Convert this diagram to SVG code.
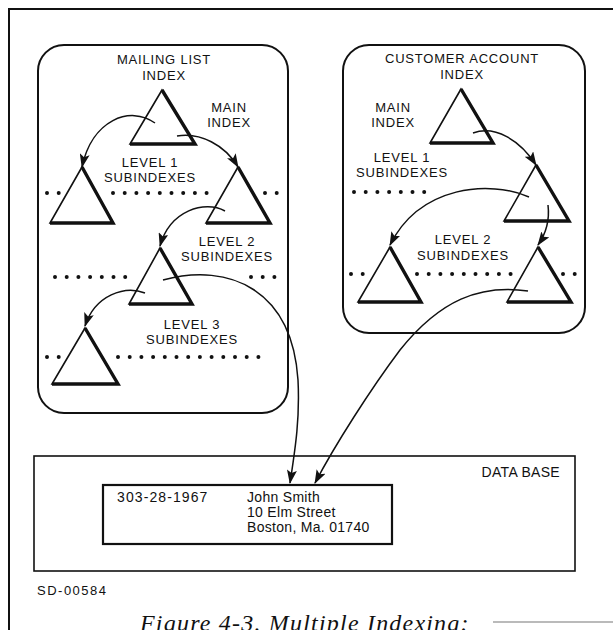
<svg xmlns="http://www.w3.org/2000/svg" width="613" height="630" viewBox="0 0 613 630">
<style>
text{font-family:"Liberation Sans",Arial,sans-serif;font-size:13px;letter-spacing:0.8px;fill:#111}
.c{text-anchor:middle}
.r{font-size:14px;letter-spacing:0.3px}
.tri{fill:none;stroke:#111;stroke-width:1.6;stroke-linejoin:miter}
.thk{fill:none;stroke:#111;stroke-width:3.4;stroke-linejoin:miter}
.box{fill:none;stroke:#111;stroke-width:2}
.con{fill:none;stroke:#111;stroke-width:1.5}
.dots{fill:none;stroke:#111;stroke-width:4;stroke-linecap:round;stroke-dasharray:0 11.7}
</style>
<defs>
<marker id="ah" viewBox="0 0 14 10" refX="13" refY="5" markerWidth="14" markerHeight="10" markerUnits="userSpaceOnUse" orient="auto">
<path d="M0,0 L14,5 L0,10 L3,5 Z" fill="#111"/>
</marker>
</defs>
<rect width="613" height="630" fill="#fff"/>
<g id="frame">
<path d="M9,630 V9 H613" fill="none" stroke="#111" stroke-width="2"/>
<path d="M493,622 H613" fill="none" stroke="#777" stroke-width="1.2"/>
</g>
<g id="mailing-list-index">
<rect x="38" y="45" width="250" height="368" rx="26" class="box"/>
<text x="164" y="64" class="c">MAILING LIST</text>
<text x="164" y="80" class="c">INDEX</text>
<text x="229" y="112" class="c">MAIN</text>
<text x="229" y="127" class="c">INDEX</text>
<text x="150" y="167" class="c">LEVEL 1</text>
<text x="150" y="182" class="c">SUBINDEXES</text>
<text x="227" y="246" class="c">LEVEL 2</text>
<text x="227" y="261" class="c">SUBINDEXES</text>
<text x="192" y="329" class="c">LEVEL 3</text>
<text x="192" y="344" class="c">SUBINDEXES</text>
<g id="ml-main"><path d="M162,90 L130,144 L195,144 Z" class="tri"/><path d="M162,90 L195,144 L130,144" class="thk"/></g>
<g id="ml-l1a"><path d="M82,167 L50,223 L113,223 Z" class="tri"/><path d="M82,167 L113,223 L50,223" class="thk"/></g>
<g id="ml-l1b"><path d="M238,167 L206,223 L270,223 Z" class="tri"/><path d="M238,167 L270,223 L206,223" class="thk"/></g>
<g id="ml-l2"><path d="M160,248 L129,304 L192,304 Z" class="tri"/><path d="M160,248 L192,304 L129,304" class="thk"/></g>
<g id="ml-l3"><path d="M85,328 L52,384 L118,384 Z" class="tri"/><path d="M85,328 L118,384 L52,384" class="thk"/></g>
<path d="M47,193 H60 M113,193 H208 M265,193 H278" class="dots"/>
<path d="M55,277 H126 M251,277 H276" class="dots"/>
<path d="M47,357 H60 M118,357 H270" class="dots"/>
</g>
<g id="customer-account-index">
<rect x="343" y="45" width="242" height="288" rx="26" class="box"/>
<text x="462" y="63" class="c">CUSTOMER ACCOUNT</text>
<text x="462" y="79" class="c">INDEX</text>
<text x="393" y="112" class="c">MAIN</text>
<text x="393" y="127" class="c">INDEX</text>
<text x="402" y="162" class="c">LEVEL 1</text>
<text x="402" y="177" class="c">SUBINDEXES</text>
<text x="463" y="244" class="c">LEVEL 2</text>
<text x="463" y="260" class="c">SUBINDEXES</text>
<g id="ca-main"><path d="M461,89 L430,143 L493,143 Z" class="tri"/><path d="M461,89 L493,143 L430,143" class="thk"/></g>
<g id="ca-l1"><path d="M536,165 L504,221 L569,221 Z" class="tri"/><path d="M536,165 L569,221 L504,221" class="thk"/></g>
<g id="ca-l2a"><path d="M390,247 L358,302 L421,302 Z" class="tri"/><path d="M390,247 L421,302 L358,302" class="thk"/></g>
<g id="ca-l2b"><path d="M538,247 L507,302 L571,302 Z" class="tri"/><path d="M538,247 L571,302 L507,302" class="thk"/></g>
<path d="M354,192 H426" class="dots"/>
<path d="M351,274 H364 M417,274 H513 M563,274 H576" class="dots"/>
</g>
<g id="data-base">
<rect x="34" y="456" width="541" height="115" fill="none" stroke="#111" stroke-width="1.6"/>
<text x="560" y="477" text-anchor="end" class="r">DATA BASE</text>
</g>
<g id="record">
<rect x="103" y="485" width="289" height="59" fill="none" stroke="#111" stroke-width="2.2"/>
<text x="117" y="502" class="r" style="letter-spacing:1.1px">303-28-1967</text>
<text x="247" y="502" class="r">John Smith</text>
<text x="247" y="517" class="r">10 Elm Street</text>
<text x="247" y="532" class="r">Boston, Ma. 01740</text>
</g>
<g id="connectors">
<path d="M155,123 C130,105 92,120 82,167" class="con" marker-end="url(#ah)"/>
<path d="M177,136 C200,132 225,145 238,167" class="con" marker-end="url(#ah)"/>
<path d="M225,211 C205,200 170,210 160,246" class="con" marker-end="url(#ah)"/>
<path d="M145,293 C125,285 95,295 85,326" class="con" marker-end="url(#ah)"/>
<path d="M163,280 C230,262 292,290 298,380 C300,420 295,450 290,483" class="con" marker-end="url(#ah)"/>
<path d="M473,133 C495,125 520,140 536,165" class="con" marker-end="url(#ah)"/>
<path d="M529,197 C490,180 420,185 390,245" class="con" marker-end="url(#ah)"/>
<path d="M548,205 C550,222 545,235 538,245" class="con" marker-end="url(#ah)"/>
<path d="M528,291 C480,284 440,300 400,350 C370,390 335,445 315,483" class="con" marker-end="url(#ah)"/>
</g>
<text x="37" y="595" style="font-size:13px;letter-spacing:1.5px">SD-00584</text>
<text x="140" y="631" style="font-family:'Liberation Serif','Times New Roman',serif;font-style:italic;font-size:24px;letter-spacing:1.2px">Figure 4-3.  Multiple Indexing:</text>
</svg>
